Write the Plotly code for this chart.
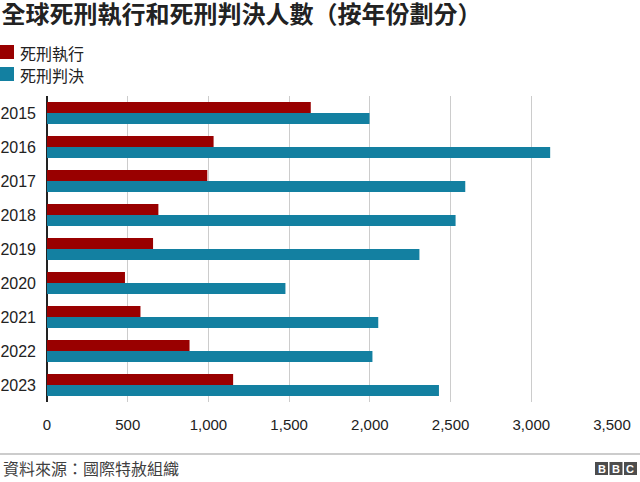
import plotly.graph_objects as go

years = ["2015", "2016", "2017", "2018", "2019", "2020", "2021", "2022", "2023"]
executions = [1634, 1032, 993, 690, 657, 483, 579, 883, 1153]
sentences = [1998, 3117, 2591, 2531, 2307, 1477, 2052, 2016, 2428]
series_names = ["死刑執行", "死刑判決"]
series_colors = ["#990000", "#1380A1"]
x_ticks = [0, 500, 1000, 1500, 2000, 2500, 3000, 3500]

title_text = "全球死刑執行和死刑判決人數（按年份劃分）"
source_text = "資料來源：國際特赦組織"

W, H = 640, 482
L, R, T, B = 47, 612, 96, 402  # plot area in pixels

def px(x):
    return (x - L) / (R - L)

def py(y):
    return (B - y) / (B - T)

FONT = "Liberation Sans, Arial, Noto Sans CJK TC, sans-serif"

fig = go.Figure()
for name, color, vals in zip(series_names, series_colors, [executions, sentences]):
    fig.add_trace(go.Bar(
        y=years, x=vals, name=name, orientation="h",
        marker=dict(color=color, line=dict(width=0)),
        showlegend=False, hoverinfo="skip",
    ))

shapes = []
annotations = []

# custom legend
leg_y = [52, 74]
for name, color, yc in zip(series_names, series_colors, leg_y):
    shapes.append(dict(type="rect", xref="paper", yref="paper",
                       x0=px(0), x1=px(14), y0=py(yc - 7), y1=py(yc + 7),
                       fillcolor=color, line=dict(width=0)))
    annotations.append(dict(text=name, xref="paper", yref="paper",
                            x=px(18), y=py(yc + 1), xanchor="left", yanchor="middle",
                            showarrow=False, font=dict(size=16, color="#222222",
                                                       family="Noto Sans CJK TC")))

# footer line
shapes.append(dict(type="line", xref="paper", yref="paper",
                   x0=px(0), x1=px(640), y0=py(454), y1=py(454),
                   line=dict(color="#999999", width=1)))
annotations.append(dict(text=source_text, xref="paper", yref="paper",
                        x=px(1), y=py(468), xanchor="left", yanchor="middle",
                        showarrow=False, font=dict(size=16, color="#404040",
                                                   family="Noto Sans CJK TC")))

# BBC logo
for i, letter in enumerate("BBC"):
    x0 = 595 + i * 14.5
    shapes.append(dict(type="rect", xref="paper", yref="paper",
                       x0=px(x0), x1=px(x0 + 13), y0=py(475), y1=py(462),
                       fillcolor="#4d4d4d", line=dict(width=0)))
    annotations.append(dict(text="<b>%s</b>" % letter, xref="paper", yref="paper",
                            x=px(x0 + 6.5), y=py(468.5), xanchor="center", yanchor="middle",
                            showarrow=False, font=dict(size=11, color="white",
                                                       family="Liberation Sans")))

fig.update_layout(
    width=W, height=H,
    margin=dict(l=L, r=W - R, t=T, b=H - B, pad=0, autoexpand=False),
    paper_bgcolor="white", plot_bgcolor="white",
    font=dict(family=FONT, color="#222222"),
    barmode="group", bargap=0.35, bargroupgap=0,
    hovermode=False,
    title=dict(text="<b>" + title_text + "</b>", xref="container", yref="container",
               x=1.5 / W, xanchor="left", y=1 - 15 / H, yanchor="middle",
               font=dict(size=24, color="#222222", family="Noto Sans CJK TC")),
    xaxis=dict(range=[0, 3500], tickvals=x_ticks, tickformat=",",
               showgrid=True, gridcolor="#cccccc", gridwidth=1,
               zeroline=True, zerolinecolor="#222222", zerolinewidth=2,
               showline=False, ticks="", ticklabelstandoff=12, automargin=False,
               tickfont=dict(size=15, color="#222222", family=FONT),
               fixedrange=True),
    yaxis=dict(autorange="reversed", categoryorder="array", categoryarray=years,
               showgrid=False, zeroline=False, showline=False, ticks="",
               ticklabelstandoff=10, automargin=False,
               tickfont=dict(size=16, color="#222222", family=FONT),
               fixedrange=True),
    shapes=shapes, annotations=annotations,
)

fig.write_html("out.html", config={"displayModeBar": False, "staticPlot": True},
               post_script="document.body.style.margin='0';document.body.style.overflow='hidden';")
